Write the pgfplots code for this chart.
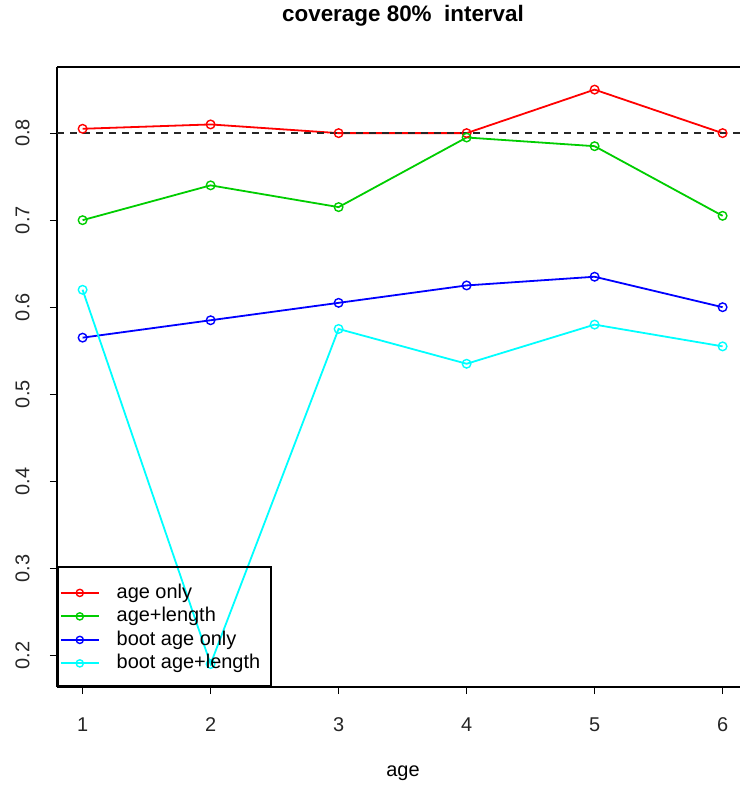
\documentclass[border=0pt]{standalone}
\usepackage{pgfplots}
\pgfplotsset{compat=1.18}
\usepackage{fontspec}
\setmainfont{Liberation Sans}
\definecolor{rred}{RGB}{255,0,0}
\definecolor{rgreen}{RGB}{0,205,0}
\definecolor{rblue}{RGB}{0,0,255}
\definecolor{rcyan}{RGB}{0,255,255}
\begin{document}
\begin{tikzpicture}
\useasboundingbox (-57bp,-99bp) rectangle (683bp,687bp);
\begin{axis}[
  at={(0,0)}, anchor=south west,
  scale only axis, width=683bp, height=620bp,
  xmin=0.8, xmax=6.136, ymin=0.1636, ymax=0.876,
  axis x line*=box, axis y line*=left,
  xtick pos=bottom, ytick pos=left,
  axis line style={line width=1.6bp, black},
  xtick={1,2,3,4,5,6},
  ytick={0.2,0.3,0.4,0.5,0.6,0.7,0.8},
  yticklabels={0.2,0.3,0.4,0.5,0.6,0.7,0.8},
  tick align=outside,
  major tick length=7bp,
  tick style={line width=1.2bp, black},
  /pgf/number format/assume math mode=true,
  tick label style={font=\fontsize{20}{24}\selectfont, text=black!85},
  yticklabel style={rotate=90, anchor=south},
  yticklabel shift=17bp,
  xticklabel shift=20bp,
  title={\textbf{coverage 80\%\ \ interval}},
  title style={at={(0.5066,1)}, anchor=base, yshift=40bp, font=\fontsize{22.5}{27}\selectfont},
  xlabel={age},
  xlabel style={at={(0.5066,0)}, anchor=base, yshift=-89bp, font=\fontsize{20}{24}\selectfont},
  every axis plot/.append style={line width=1.8bp},
  legend cell align=left,
  legend style={at={(0,0)}, anchor=south west, draw=black, line width=1.6bp, fill=none,
    inner xsep=2bp, inner ysep=14.3bp, row sep=3.5bp,
    font=\fontsize{20}{24}\selectfont,
    nodes={inner xsep=3bp, inner ysep=0bp, text height=17bp, text depth=3bp}},
  legend image code/.code={%
    \draw[#1, line width=2bp] (0bp,-1.5bp) -- (38bp,-1.5bp);
    \draw[#1, line width=1.3bp] plot[mark=o, mark size=3.6bp] coordinates {(19bp,-1.5bp)};
    \path (0bp,-4bp) (52bp,4.5bp);
  },
]
\addplot[rred, mark=o, mark size=4.3bp, mark options={line width=1.4bp, fill=white}]
  coordinates {(1,0.805) (2,0.81) (3,0.80) (4,0.80) (5,0.85) (6,0.80)};
\addlegendentry{age only}
\addplot[rgreen, mark=o, mark size=4.3bp, mark options={line width=1.4bp, fill=white}]
  coordinates {(1,0.70) (2,0.74) (3,0.715) (4,0.795) (5,0.785) (6,0.705)};
\addlegendentry{age+length}
\addplot[rblue, mark=o, mark size=4.3bp, mark options={line width=1.4bp, fill=white}]
  coordinates {(1,0.565) (2,0.585) (3,0.605) (4,0.625) (5,0.635) (6,0.60)};
\addlegendentry{boot age only}
\addplot[rcyan, mark=o, mark size=4.3bp, mark options={line width=1.4bp, fill=white}]
  coordinates {(1,0.62) (2,0.19) (3,0.575) (4,0.535) (5,0.58) (6,0.555)};
\addlegendentry{boot age+length\rule{6bp}{0bp}}
\addplot[black!85, line width=1.6bp, dash pattern=on 7bp off 6bp, forget plot]
  coordinates {(0.8,0.8) (6.136,0.8)};
\end{axis}
\end{tikzpicture}
\end{document}
